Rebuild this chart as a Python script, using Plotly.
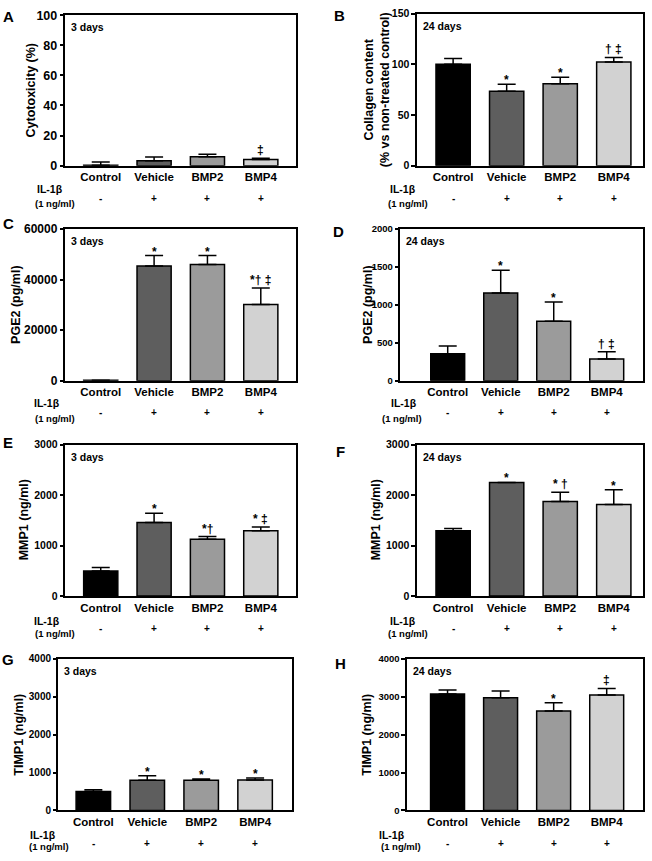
import plotly.graph_objects as go

# ---------------- data ----------------
categories = ["Control", "Vehicle", "BMP2", "BMP4"]
il1b_signs = ["-", "+", "+", "+"]
bar_colors = ["#000000", "#5e5e5e", "#9b9b9b", "#d2d2d2"]

a_mean = [0.3, 3.3, 5.9, 4.1]
a_err = [2.2, 2.4, 1.7, 0.9]
a_sig = ["", "", "", "‡"]

b_mean = [100, 73.4, 80.8, 102.2]
b_err = [5.7, 6.8, 6.5, 4.5]
b_sig = ["", "*", "*", "† ‡"]

c_mean = [200, 45350, 46000, 30200]
c_err = [0, 4150, 3500, 6480]
c_sig = ["", "*", "*", "*† ‡"]

d_mean = [358, 1158, 786, 289]
d_err = [100, 298, 251, 95]
d_sig = ["", "*", "*", "† ‡"]

e_mean = [495, 1458, 1126, 1295]
e_err = [71, 182, 52, 72]
e_sig = ["", "*", "*†", "* ‡"]

f_mean = [1295, 2252, 1874, 1816]
f_err = [45, 0, 182, 293]
f_sig = ["", "*", "* †", "*"]

g_mean = [502, 797, 797, 805]
g_err = [43, 121, 34, 52]
g_sig = ["", "*", "*", "*"]

h_mean = [3074, 2978, 2623, 3048]
h_err = [104, 174, 217, 173]
h_sig = ["", "", "*", "‡"]

y_titles = ["Cytotoxicity (%)", "Collagen content<br>(% vs non-treated control)",
            "PGE2 (pg/ml)", "PGE2 (pg/ml)", "MMP1 (ng/ml)", "MMP1 (ng/ml)",
            "TIMP1 (ng/ml)", "TIMP1 (ng/ml)"]
day_labels = ["3 days", "24 days", "3 days", "24 days", "3 days", "24 days", "3 days", "24 days"]
panel_letters = ["A", "B", "C", "D", "E", "F", "G", "H"]
y_max = [100, 150, 60000, 2000, 3000, 3000, 4000, 4000]
y_dtick = [20, 50, 20000, 500, 1000, 1000, 1000, 1000]

# ---------------- layout geometry (pixels) ----------------
W, H = 652, 861
# plot box: left, right, top, bottom
boxes = [
    (65, 296, 8.3, 161.3), (416.7, 642.7, 6.7, 161.3),
    (65, 296, 225.7, 380), (400, 643.3, 225.7, 380),
    (65, 296, 445, 598.7), (416.7, 642.7, 445, 598.7),
    (58.3, 292.3, 662.7, 816.7), (406.7, 643.3, 662.7, 816.7),
]
x_ranges = [(-0.67, 3.66), (-0.68, 3.54), (-0.67, 3.66), (-0.9, 3.69),
            (-0.67, 3.66), (-0.68, 3.54), (-0.65, 3.69), (-0.77, 3.69)]
ytick_size = [12.5, 10.5, 12, 9.5, 10.5, 10.5, 10, 9.5]
ytitle_x = [31, 376.5, 16, 368, 24, 376, 19, 367]
letter_pos = [(8, 10), (339, 9), (8, 220), (338, 228), (8, 443), (340, 452), (8, 663), (340, 667)]
il_pos = [(50, 185, 55, 200, 195), (403, 185, 408, 200, 195),
          (47, 403, 55, 418, 412), (404, 403, 402, 418, 412),
          (47, 624, 55, 637, 632), (403, 624, 408, 637, 632),
          (43, 842, 49, 853, 850), (392, 842, 401, 853, 850)]

means = [a_mean, b_mean, c_mean, d_mean, e_mean, f_mean, g_mean, h_mean]
errs = [a_err, b_err, c_err, d_err, e_err, f_err, g_err, h_err]
sigs = [a_sig, b_sig, c_sig, d_sig, e_sig, f_sig, g_sig, h_sig]

FONT = "Liberation Sans, Arial, sans-serif"

fig = go.Figure()
annotations = []
layout_axes = {}


def px_x(p):
    return p / W


def px_y(p):
    return 1 - p / H


def b(t):
    return f"<b>{t}</b>"


for i in range(8):
    n = i + 1
    xa = "x" if n == 1 else f"x{n}"
    ya = "y" if n == 1 else f"y{n}"
    xkey = "xaxis" if n == 1 else f"xaxis{n}"
    ykey = "yaxis" if n == 1 else f"yaxis{n}"
    left, right, top, bottom = boxes[i]

    fig.add_trace(go.Bar(
        x=categories, y=means[i], xaxis=xa, yaxis=ya,
        width=0.64,
        marker=dict(color=bar_colors, line=dict(color="black", width=1.5)),
        error_y=dict(type="data", array=errs[i], arrayminus=[0] * 4, symmetric=False,
                     color="black", thickness=1.5, width=9),
        showlegend=False, hoverinfo="skip",
    ))

    layout_axes[xkey] = dict(
        domain=[px_x(left), px_x(right)], anchor=ya, type="category",
        range=list(x_ranges[i]), showline=True, linecolor="black", linewidth=1.5,
        mirror=True, ticks="", showgrid=False, zeroline=False,
        tickvals=categories, ticktext=[b(c) for c in categories],
        tickfont=dict(family=FONT, size=11.5, color="black"),
        ticklabelstandoff=0, fixedrange=True,
    )
    layout_axes[ykey] = dict(
        domain=[px_y(bottom), px_y(top)], anchor=xa,
        range=[0, y_max[i]], dtick=y_dtick[i], tick0=0, tickformat="d",
        tickprefix="<b>", ticksuffix="</b>",
        showline=True, linecolor="black", linewidth=1.5, mirror=True,
        ticks="outside", ticklen=3.5, tickwidth=1.5, tickcolor="black",
        showgrid=False, zeroline=False,
        tickfont=dict(family=FONT, size=ytick_size[i], color="black"),
        fixedrange=True,
    )

    annotations.append(dict(
        xref="paper", yref="paper", x=px_x(ytitle_x[i]), y=px_y((top + bottom) / 2),
        text=b(y_titles[i]), textangle=-90, showarrow=False, xanchor="center", yanchor="middle",
        font=dict(family=FONT, size=12.5, color="black"),
    ))
    annotations.append(dict(
        xref="paper", yref="paper", x=px_x(left + 4), y=px_y(top + 4),
        text=b(day_labels[i]), showarrow=False, xanchor="left", yanchor="top",
        font=dict(family=FONT, size=10.5, color="black"),
    ))
    lx, ly = letter_pos[i]
    annotations.append(dict(
        xref="paper", yref="paper", x=px_x(lx), y=px_y(ly),
        text=b(panel_letters[i]), showarrow=False, xanchor="center", yanchor="middle",
        font=dict(family=FONT, size=15, color="black"),
    ))
    ix, iy, nx, ny, sy = il_pos[i]
    annotations.append(dict(
        xref="paper", yref="paper", x=px_x(ix), y=px_y(iy),
        text=b("IL-1β"), showarrow=False, xanchor="center", yanchor="middle",
        font=dict(family=FONT, size=10.5, color="black"),
    ))
    annotations.append(dict(
        xref="paper", yref="paper", x=px_x(nx), y=px_y(ny),
        text=b("(1 ng/ml)"), showarrow=False, xanchor="center", yanchor="middle",
        font=dict(family=FONT, size=9.5, color="black"),
    ))
    for c, s in zip(categories, il1b_signs):
        annotations.append(dict(
            xref=xa, yref="paper", x=c, y=px_y(sy),
            text=b(s), showarrow=False, xanchor="center", yanchor="middle",
            font=dict(family=FONT, size=10, color="black"),
        ))
    for c, m, e, s in zip(categories, means[i], errs[i], sigs[i]):
        if s:
            has_dagger = ("†" in s) or ("‡" in s)
            annotations.append(dict(
                xref=xa, yref=ya, x=c, y=m + e,
                text=b(s), showarrow=False, xanchor="center", yanchor="bottom",
                yshift=-1 if has_dagger else -5,
                font=dict(family=FONT, size=12, color="black"),
            ))

fig.update_layout(
    width=W, height=H, margin=dict(l=0, r=0, t=0, b=0),
    paper_bgcolor="white", plot_bgcolor="white",
    annotations=annotations, bargap=0.3,
    **layout_axes,
)

fig.write_html(
    "out.html",
    config={"displayModeBar": False},
    post_script="document.documentElement.style.margin='0';document.body.style.margin='0';"
                "document.documentElement.style.overflow='hidden';document.body.style.overflow='hidden';",
)
